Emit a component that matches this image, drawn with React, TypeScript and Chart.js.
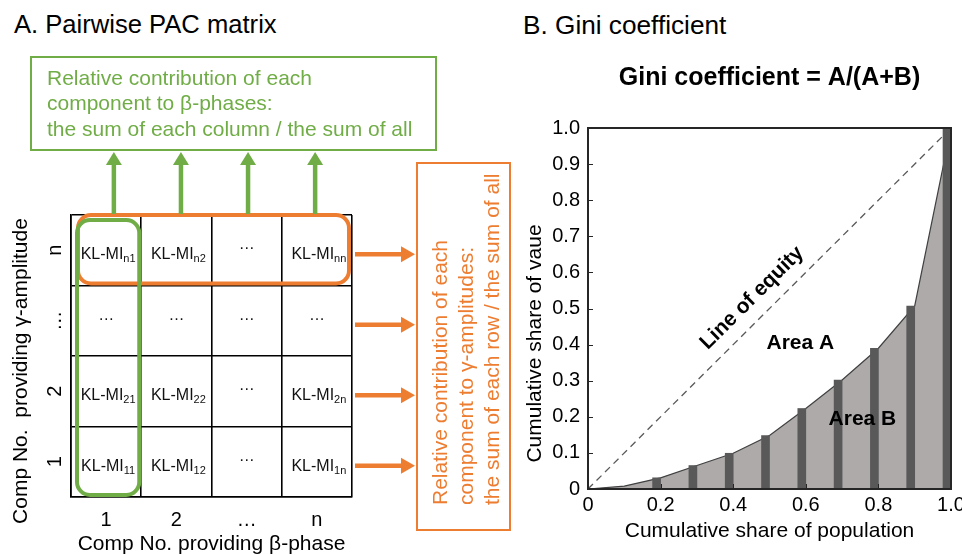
import React, { useEffect, useRef } from 'react';
import { Chart, registerables } from 'chart.js';

Chart.register(...registerables);

const FONT = '"Liberation Sans", Arial, Helvetica, sans-serif';
const INK = '#000000';
const GREEN = '#70AD47';
const ORANGE = '#ED7D31';

// ---------- A. Pairwise PAC matrix ----------
const PHASE_COMPS = ['1', '2', '…', 'n']; // columns: component providing the β-phase
const AMP_COMPS = ['n', '…', '2', '1']; // rows, top to bottom: component providing the γ-amplitude
const CELL_NAME = 'KL-MI';
// subscript of each cell [row][column]; '' marks an elided cell
const CELL_SUBS = [
  ['n1', 'n2', '', 'nn'],
  ['', '', '', ''],
  ['21', '22', '', '2n'],
  ['11', '12', '', '1n'],
];
const PHASE_TITLE = 'Comp No. providing β-phase';
const AMP_TITLE = 'Comp No.  providing γ-amplitude';
const COLUMN_NOTE = [
  'Relative contribution of each',
  'component to β-phases:',
  'the sum of each column / the sum of all',
];
const ROW_NOTE = [
  'Relative contribution of each',
  'component to γ-amplitudes:',
  'the sum of each row / the sum of all',
];

// ---------- B. Gini coefficient ----------
const GINI_TITLE = 'Gini coefficient = A/(A+B)';
const POP_TITLE = 'Cumulative share of population';
const VALUE_TITLE = 'Cumulative share of vaue';
const POP_SHARE = [0, 0.1, 0.2, 0.3, 0.4, 0.5, 0.6, 0.7, 0.8, 0.9, 1.0];
const VALUE_SHARE = [0, 0.008, 0.031, 0.065, 0.099, 0.148, 0.223, 0.302, 0.39, 0.507, 1.0];
const BAR_POP = [0.2, 0.3, 0.4, 0.5, 0.6, 0.7, 0.8, 0.9, 1.0];
const BAR_VALUE = [0.031, 0.065, 0.099, 0.148, 0.223, 0.302, 0.39, 0.507, 1.0];
const EQUITY_POP = [0, 1];
const EQUITY_VALUE = [0, 1];
const GINI_NOTES = [
  { text: 'Line of equity', x: 0.452, y: 0.529, alongEquity: true },
  { text: 'Area A', x: 0.585, y: 0.404, alongEquity: false },
  { text: 'Area B', x: 0.756, y: 0.194, alongEquity: false },
];
// bars sit just left of their population share (right edge on the tick)
const BAR_SHIFT = 0.011;

function roundRect(ctx: CanvasRenderingContext2D, x0: number, y0: number, x1: number, y1: number, r: number) {
  ctx.beginPath();
  ctx.moveTo(x0 + r, y0);
  ctx.arcTo(x1, y0, x1, y1, r);
  ctx.arcTo(x1, y1, x0, y1, r);
  ctx.arcTo(x0, y1, x0, y0, r);
  ctx.arcTo(x0, y0, x1, y0, r);
  ctx.closePath();
}

function arrow(
  ctx: CanvasRenderingContext2D,
  x0: number, y0: number, x1: number, y1: number,
  color: string, shaft: number, headW: number, headL: number,
) {
  const ang = Math.atan2(y1 - y0, x1 - x0);
  const len = Math.hypot(x1 - x0, y1 - y0);
  ctx.save();
  ctx.translate(x0, y0);
  ctx.rotate(ang);
  ctx.fillStyle = color;
  ctx.fillRect(0, -shaft / 2, len - headL + 0.5, shaft);
  ctx.beginPath();
  ctx.moveTo(len, 0);
  ctx.lineTo(len - headL, -headW / 2);
  ctx.lineTo(len - headL, headW / 2);
  ctx.closePath();
  ctx.fill();
  ctx.restore();
}

const matrixDecor = {
  id: 'matrixDecor',
  afterDatasetsDraw(chart: any) {
    const { ctx, chartArea: ca, scales } = chart;
    const x = scales.x;
    const y = scales.y;
    const ds = chart.data.datasets[0];
    const meta = chart.getDatasetMeta(0);

    ctx.save();
    // cell contents
    ctx.fillStyle = '#111111';
    meta.data.forEach((pt: any, i: number) => {
      const sub = ds.data[i].sub as string;
      const cx = pt.x;
      const cy = pt.y;
      ctx.font = `16px ${FONT}`;
      if (!sub) {
        ctx.textAlign = 'center';
        ctx.textBaseline = 'alphabetic';
        ctx.fillText('…', cx, cy - 1);
        return;
      }
      const w1 = ctx.measureText(CELL_NAME).width;
      ctx.font = `11px ${FONT}`;
      const w2 = ctx.measureText(sub).width;
      const x0 = cx - (w1 + w2) / 2 + 2;
      ctx.textAlign = 'left';
      ctx.textBaseline = 'alphabetic';
      ctx.font = `16px ${FONT}`;
      ctx.fillText(CELL_NAME, x0, cy + 9);
      ctx.font = `11px ${FONT}`;
      ctx.fillText(sub, x0 + w1, cy + 12);
    });

    const colHalf = (x.getPixelForValue(1) - x.getPixelForValue(0)) / 2;
    const rowHalf = (y.getPixelForValue(1) - y.getPixelForValue(0)) / 2;

    // highlighted row n (orange) and column 1 (green)
    const rowN = y.getPixelForValue(0);
    ctx.lineWidth = 4;
    ctx.strokeStyle = ORANGE;
    roundRect(ctx, ca.left + 7, rowN - rowHalf, ca.right - 3, rowN + rowHalf - 2, 13);
    ctx.stroke();
    const col1 = x.getPixelForValue(0);
    ctx.strokeStyle = GREEN;
    roundRect(ctx, col1 - colHalf + 6, ca.top + 5, col1 + colHalf - 2, ca.bottom - 2, 13);
    ctx.stroke();

    // column-sum note
    const gBox = { l: ca.left - 40, r: ca.right + 84, t: ca.top - 158, b: ca.top - 65 };
    ctx.lineWidth = 2;
    ctx.strokeStyle = GREEN;
    ctx.strokeRect(gBox.l, gBox.t, gBox.r - gBox.l, gBox.b - gBox.t);
    ctx.fillStyle = GREEN;
    ctx.font = `21px ${FONT}`;
    ctx.textAlign = 'left';
    ctx.textBaseline = 'middle';
    COLUMN_NOTE.forEach((line, i) => ctx.fillText(line, gBox.l + 16, gBox.t + 22 + i * 25.5));
    // arrows from each column up to the note, spread slightly narrower than the columns
    const colMid = (ca.left + ca.right) / 2;
    PHASE_COMPS.forEach((_, c) => {
      const px = colMid + (x.getPixelForValue(c) - colMid) * 0.955 + 3;
      arrow(ctx, px, ca.top - 1, px, gBox.b + 2, GREEN, 4.5, 16, 13);
    });

    // row-sum note
    const oBox = { l: ca.right + 65, r: ca.right + 158, t: ca.top - 52, b: ca.bottom + 33 };
    ctx.strokeStyle = ORANGE;
    ctx.strokeRect(oBox.l, oBox.t, oBox.r - oBox.l, oBox.b - oBox.t);
    ctx.fillStyle = ORANGE;
    ROW_NOTE.forEach((line, i) => {
      ctx.save();
      ctx.translate(oBox.l + 24 + i * 26, ca.bottom + 8);
      ctx.rotate(-Math.PI / 2);
      ctx.fillText(line, 0, 0);
      ctx.restore();
    });
    AMP_COMPS.forEach((_, r) => {
      const py = y.getPixelForValue(r) + 4;
      arrow(ctx, ca.right + 3, py, oBox.l - 2, py, ORANGE, 4.5, 16, 14);
    });

    // amplitude axis title
    ctx.fillStyle = INK;
    ctx.font = `21px ${FONT}`;
    ctx.textAlign = 'center';
    ctx.save();
    ctx.translate(y.left + 21, (ca.top + ca.bottom) / 2 + 15);
    ctx.rotate(-Math.PI / 2);
    ctx.fillText(AMP_TITLE, 0, 0);
    ctx.restore();
    ctx.restore();
  },
};

const giniDecor = {
  id: 'giniDecor',
  afterDatasetsDraw(chart: any) {
    const { ctx, chartArea: ca, scales } = chart;
    const x = scales.x;
    const y = scales.y;
    ctx.save();
    // plot frame
    ctx.strokeStyle = '#262626';
    ctx.lineWidth = 2;
    ctx.strokeRect(ca.left, ca.top, ca.right - ca.left, ca.bottom - ca.top);
    // inward tick marks
    ctx.lineWidth = 1;
    ctx.beginPath();
    y.ticks.forEach((t: any) => {
      const py = Math.round(y.getPixelForValue(t.value)) + 0.5;
      ctx.moveTo(ca.left, py);
      ctx.lineTo(ca.left + 5, py);
    });
    x.ticks.forEach((t: any) => {
      const px = Math.round(x.getPixelForValue(t.value)) + 0.5;
      ctx.moveTo(px, ca.bottom);
      ctx.lineTo(px, ca.bottom - 5);
    });
    ctx.stroke();

    // annotations
    const slope = Math.atan2(
      y.getPixelForValue(1) - y.getPixelForValue(0),
      x.getPixelForValue(1) - x.getPixelForValue(0),
    );
    ctx.fillStyle = INK;
    ctx.font = `bold 21px ${FONT}`;
    ctx.textAlign = 'center';
    ctx.textBaseline = 'middle';
    GINI_NOTES.forEach((n) => {
      ctx.save();
      ctx.translate(x.getPixelForValue(n.x), y.getPixelForValue(n.y));
      if (n.alongEquity) ctx.rotate(slope);
      ctx.fillText(n.text, 0, 0);
      ctx.restore();
    });

    // value axis title
    ctx.font = `21px ${FONT}`;
    ctx.save();
    ctx.translate(y.left + 15, (ca.top + ca.bottom) / 2 + 35);
    ctx.rotate(-Math.PI / 2);
    ctx.fillText(VALUE_TITLE, 0, 0);
    ctx.restore();
    ctx.restore();
  },
};

const shareLabel = (v: any) => (Number(v) === 0 ? '0' : Number(v).toFixed(1));

function matrixConfig(): any {
  const cells: any[] = [];
  AMP_COMPS.forEach((amp, r) => {
    PHASE_COMPS.forEach((phase, c) => {
      cells.push({ x: phase, y: amp, sub: CELL_SUBS[r][c] });
    });
  });
  const catAxis = (labels: string[]) => ({
    type: 'category',
    labels,
    offset: true,
    grid: { offset: true, color: INK, lineWidth: 1.6, drawTicks: false },
    border: { display: true, color: INK, width: 1.6 },
  });
  return {
    type: 'scatter',
    data: { datasets: [{ data: cells, pointRadius: 0, pointHoverRadius: 0 }] },
    options: {
      responsive: false,
      animation: false,
      devicePixelRatio: 1,
      events: [],
      layout: { padding: { top: 215, right: 168, bottom: 0, left: 0 } },
      plugins: { legend: { display: false }, tooltip: { enabled: false } },
      scales: {
        x: {
          ...catAxis(PHASE_COMPS),
          ticks: { color: INK, font: { family: FONT, size: 20 }, padding: 11, autoSkip: false, maxRotation: 0 },
          title: {
            display: true,
            text: PHASE_TITLE,
            color: INK,
            font: { family: FONT, size: 21, lineHeight: 1 },
            padding: { top: 0, bottom: 0 },
          },
          afterFit: (s: any) => {
            s.height = 58;
            s.paddingLeft = 0;
            s.paddingRight = 0;
          },
        },
        y: {
          ...catAxis(AMP_COMPS),
          ticks: {
            color: INK,
            font: { family: FONT, size: 20 },
            minRotation: 90,
            maxRotation: 90,
            crossAlign: 'center',
            padding: 6,
            autoSkip: false,
          },
          afterFit: (s: any) => {
            s.width = 71;
            s.paddingTop = 0;
            s.paddingBottom = 0;
          },
        },
      },
    },
    plugins: [matrixDecor],
  };
}

function giniConfig(): any {
  return {
    type: 'line',
    data: {
      datasets: [
        {
          type: 'bar',
          data: BAR_POP.map((p, i) => ({ x: p - BAR_SHIFT, y: BAR_VALUE[i] })),
          backgroundColor: '#595959',
          borderWidth: 0,
          barThickness: 8,
          order: 0,
        },
        {
          type: 'line',
          data: POP_SHARE.map((p, i) => ({ x: p, y: VALUE_SHARE[i] })),
          borderColor: '#404040',
          borderWidth: 1.2,
          backgroundColor: '#AEAAAA',
          fill: 'origin',
          pointRadius: 0,
          tension: 0,
          order: 1,
        },
        {
          type: 'line',
          data: EQUITY_POP.map((p, i) => ({ x: p, y: EQUITY_VALUE[i] })),
          borderColor: '#595959',
          borderWidth: 1.3,
          borderDash: [7, 5],
          fill: false,
          pointRadius: 0,
          order: 2,
        },
      ],
    },
    options: {
      responsive: false,
      animation: false,
      devicePixelRatio: 1,
      events: [],
      layout: { padding: { top: 0, right: 11, bottom: 0, left: 0 } },
      plugins: {
        legend: { display: false },
        tooltip: { enabled: false },
        title: {
          display: true,
          text: GINI_TITLE,
          fullSize: false,
          align: 'center',
          color: INK,
          font: { family: FONT, size: 25, weight: 'bold', lineHeight: 1.2 },
          padding: { top: 63, bottom: 35 },
        },
      },
      scales: {
        x: {
          type: 'linear',
          min: 0,
          max: 1,
          offset: false,
          grid: { display: false, drawTicks: false },
          border: { display: false },
          ticks: {
            stepSize: 0.2,
            callback: shareLabel,
            color: INK,
            font: { family: FONT, size: 20 },
            padding: 4,
            maxRotation: 0,
            autoSkip: false,
          },
          title: {
            display: true,
            text: POP_TITLE,
            color: INK,
            font: { family: FONT, size: 21, lineHeight: 1.2 },
            padding: { top: 0, bottom: 11 },
          },
          afterFit: (s: any) => {
            s.height = 66;
            s.paddingLeft = 0;
            s.paddingRight = 0;
          },
        },
        y: {
          type: 'linear',
          min: 0,
          max: 1,
          grid: { display: false, drawTicks: false },
          border: { display: false },
          ticks: {
            stepSize: 0.1,
            callback: shareLabel,
            color: INK,
            font: { family: FONT, size: 20 },
            padding: 8,
            autoSkip: false,
          },
          afterFit: (s: any) => {
            s.width = 68;
            s.paddingTop = 0;
            s.paddingBottom = 0;
          },
        },
      },
    },
    plugins: [giniDecor],
  };
}

const heading: React.CSSProperties = {
  position: 'absolute',
  lineHeight: '26px',
  whiteSpace: 'nowrap',
  color: INK,
  fontFamily: FONT,
};

export default function App() {
  const matrixRef = useRef<HTMLCanvasElement>(null);
  const giniRef = useRef<HTMLCanvasElement>(null);

  useEffect(() => {
    const a = new Chart(matrixRef.current as HTMLCanvasElement, matrixConfig());
    const b = new Chart(giniRef.current as HTMLCanvasElement, giniConfig());
    return () => {
      a.destroy();
      b.destroy();
    };
  }, []);

  return (
    <div
      style={{
        position: 'fixed',
        left: 0,
        top: 0,
        width: 962,
        height: 555,
        background: '#ffffff',
        overflow: 'hidden',
      }}
    >
      <div style={{ ...heading, fontSize: 25.6, left: 14, top: 11 }}>A. Pairwise PAC matrix</div>
      <div style={{ ...heading, fontSize: 26.2, left: 523, top: 12 }}>B. Gini coefficient</div>
      <canvas ref={matrixRef} width={520} height={555} style={{ position: 'absolute', left: 0, top: 0 }} />
      <canvas ref={giniRef} width={442} height={555} style={{ position: 'absolute', left: 520, top: 0 }} />
    </div>
  );
}
